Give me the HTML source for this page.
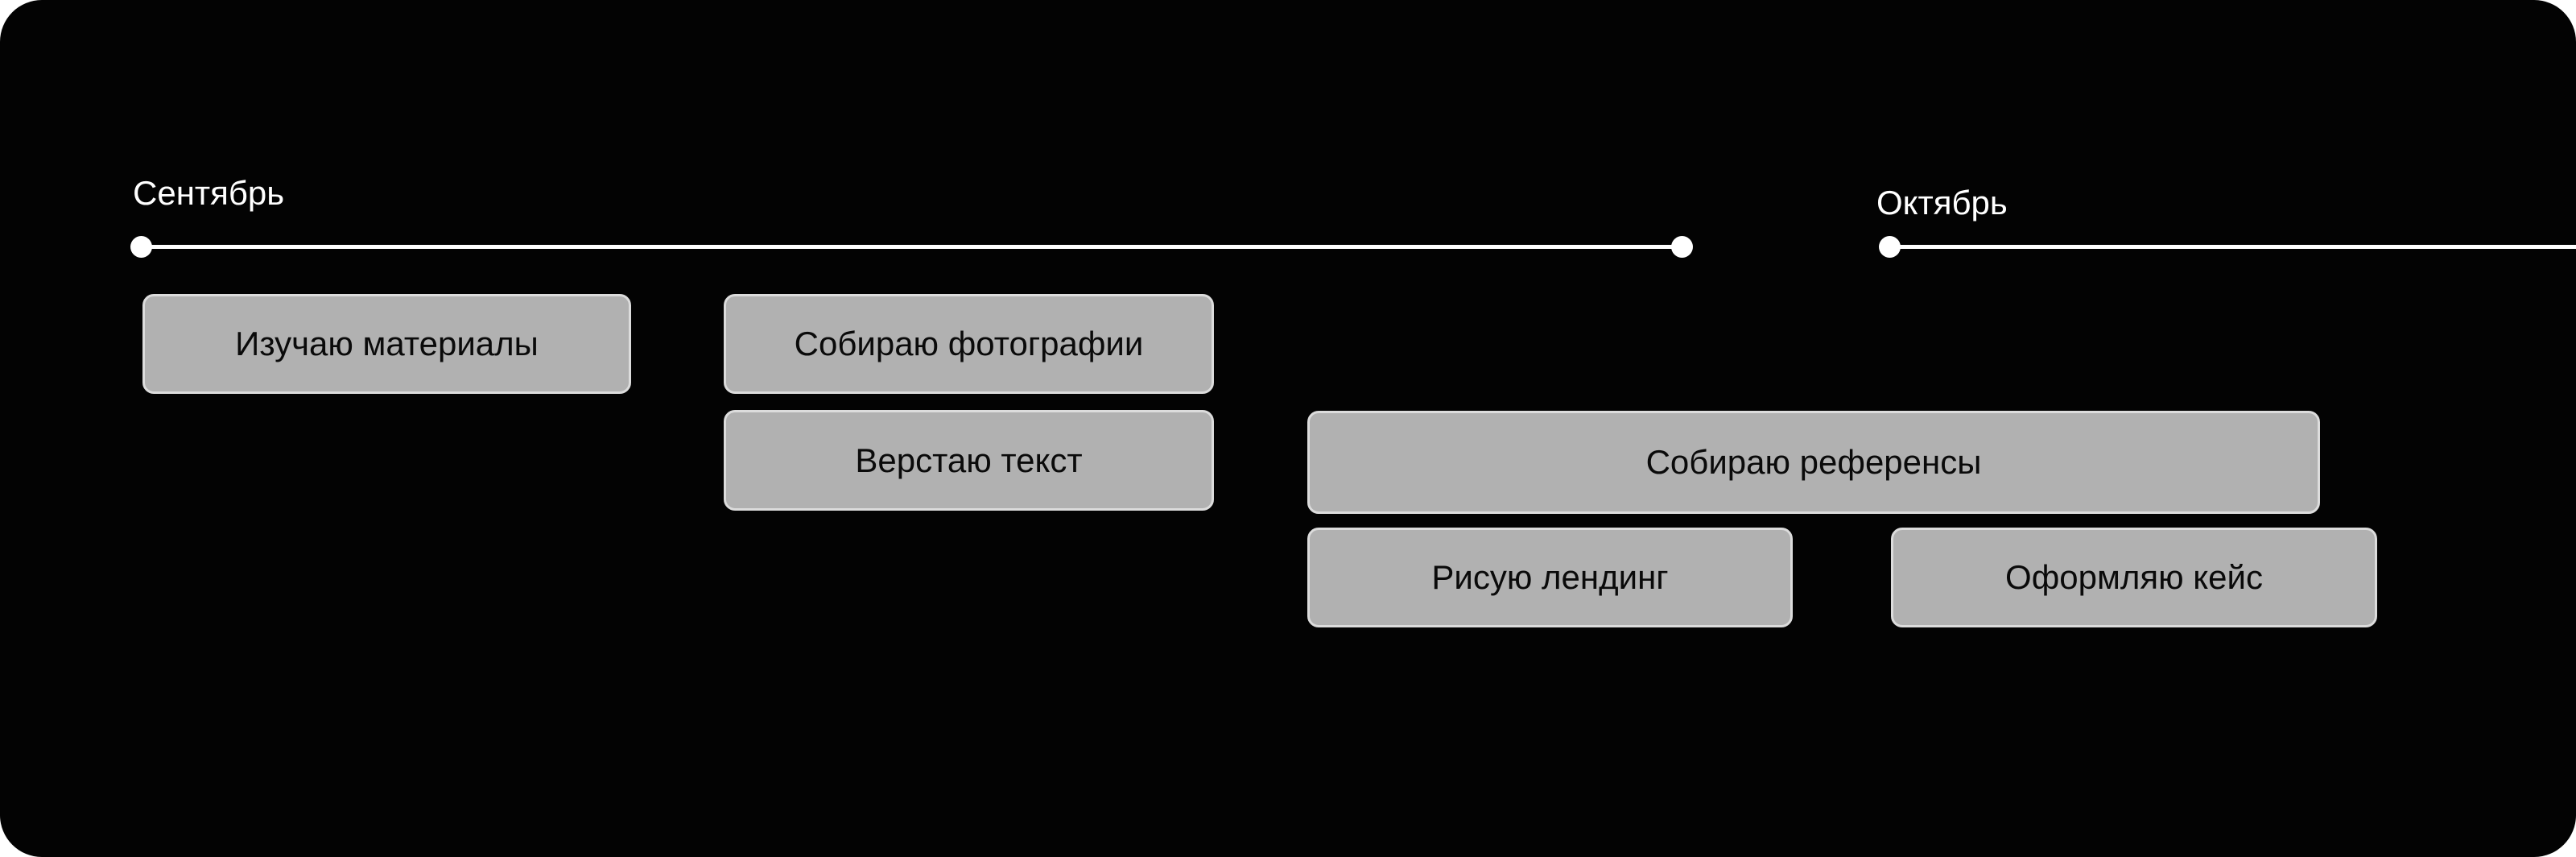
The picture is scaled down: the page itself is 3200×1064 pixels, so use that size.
<!DOCTYPE html>
<html><head><meta charset="utf-8"><style>
html,body{margin:0;padding:0;background:#fff;}
#c{position:relative;width:3200px;height:1064px;background:#030303;border-radius:52px;overflow:hidden;font-family:"Liberation Sans","DejaVu Sans",sans-serif;}
.lbl{position:absolute;color:#fff;font-size:42px;line-height:1;}
.line{position:absolute;height:5px;background:#fff;top:304px;}
.dot{position:absolute;width:27px;height:27px;border-radius:50%;background:#fff;top:293px;}
.b{position:absolute;box-sizing:border-box;background:#b1b1b1;border:3px solid #dcdcdc;border-radius:14px;display:flex;align-items:center;justify-content:center;color:#0a0a0a;font-size:42px;}
</style></head><body><div id="c">
<div class="lbl" style="left:165px;top:219px;">Сентябрь</div>
<div class="lbl" style="left:2331px;top:231px;">Октябрь</div>
<div class="line" style="left:175px;width:1914px;"></div>
<div class="dot" style="left:162px;"></div>
<div class="dot" style="left:2076px;"></div>
<div class="line" style="left:2347px;width:853px;"></div>
<div class="dot" style="left:2334px;"></div>
<div class="b" style="left:177px;top:365px;width:607px;height:124px;">Изучаю материалы</div>
<div class="b" style="left:899px;top:365px;width:609px;height:124px;">Собираю фотографии</div>
<div class="b" style="left:899px;top:509px;width:609px;height:125px;">Верстаю текст</div>
<div class="b" style="left:1624px;top:510px;width:1258px;height:128px;">Собираю референсы</div>
<div class="b" style="left:1624px;top:655px;width:603px;height:124px;">Рисую лендинг</div>
<div class="b" style="left:2349px;top:655px;width:604px;height:124px;">Оформляю кейс</div>
</div></body></html>
